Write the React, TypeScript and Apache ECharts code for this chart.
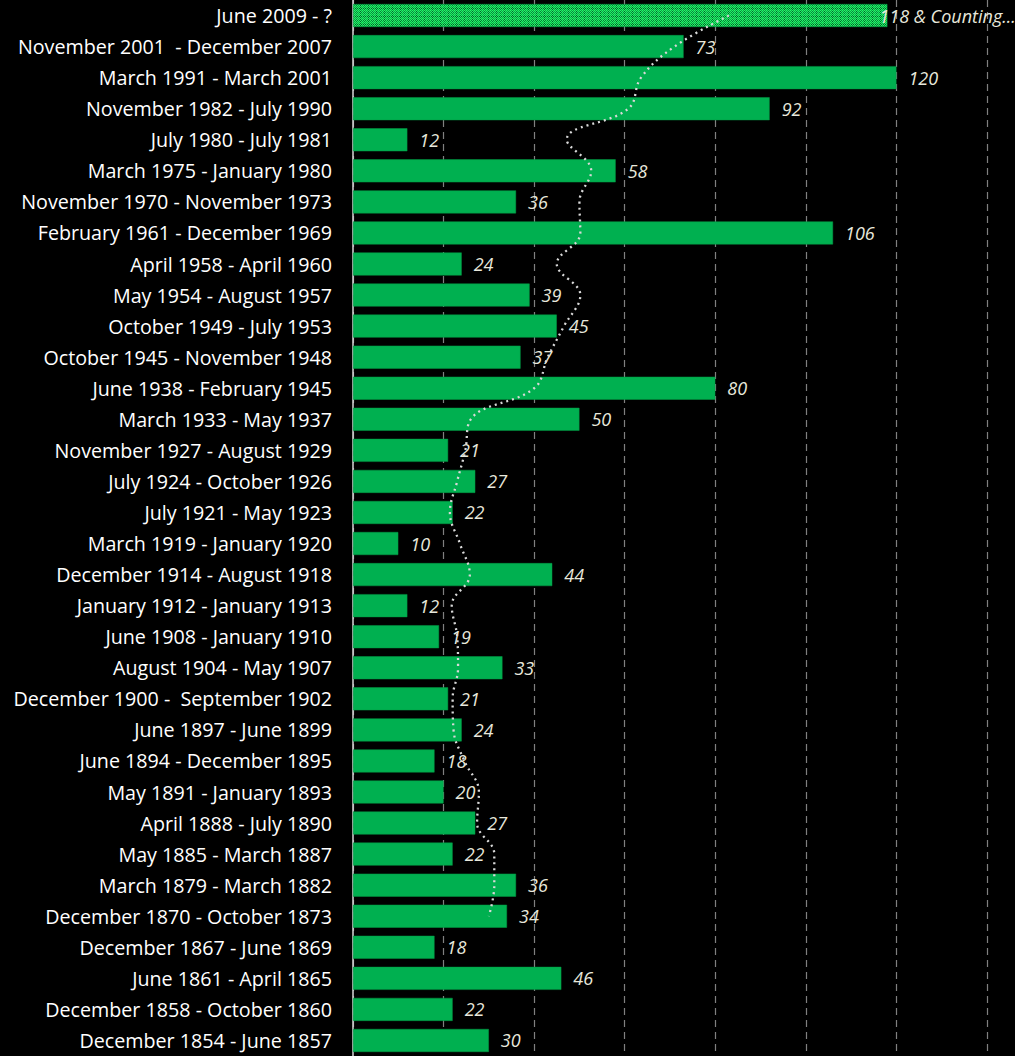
import React, { useEffect, useRef } from "react";
import * as echarts from "echarts";

const categories = [
  "June 2009 - ?",
  "November 2001  - December 2007",
  "March 1991 - March 2001",
  "November 1982 - July 1990",
  "July 1980 - July 1981",
  "March 1975 - January 1980",
  "November 1970 - November 1973",
  "February 1961 - December 1969",
  "April 1958 - April 1960",
  "May 1954 - August 1957",
  "October 1949 - July 1953",
  "October 1945 - November 1948",
  "June 1938 - February 1945",
  "March 1933 - May 1937",
  "November 1927 - August 1929",
  "July 1924 - October 1926",
  "July 1921 - May 1923",
  "March 1919 - January 1920",
  "December 1914 - August 1918",
  "January 1912 - January 1913",
  "June 1908 - January 1910",
  "August 1904 - May 1907",
  "December 1900 -  September 1902",
  "June 1897 - June 1899",
  "June 1894 - December 1895",
  "May 1891 - January 1893",
  "April 1888 - July 1890",
  "May 1885 - March 1887",
  "March 1879 - March 1882",
  "December 1870 - October 1873",
  "December 1867 - June 1869",
  "June 1861 - April 1865",
  "December 1858 - October 1860",
  "December 1854 - June 1857",
];

const months = [
  118, 73, 120, 92, 12, 58, 36, 106, 24, 39, 45, 37, 80, 50, 21, 27, 22, 10,
  44, 12, 19, 33, 21, 24, 18, 20, 27, 22, 36, 34, 18, 46, 22, 30,
];

const movingAvg: (number | null)[] = [
  83, 71, 63.6, 60.8, 47.2, 52.6, 50, 50.2, 45, 50.2, 46.6, 43, 40, 26, 24.8,
  23, 21.4, 23.6, 25.8, 21.8, 23, 23.2, 22, 22.2, 24.6, 27.8, 27.4, 31.2,
  31.2, 30, null, null, null, null,
];

const currentSuffix = " & Counting...";

function makePattern(): string {
  const c = document.createElement("canvas");
  c.width = 8;
  c.height = 8;
  const ctx = c.getContext("2d")!;
  for (let y = 0; y < 8; y++) {
    for (let x = 0; x < 8; x++) {
      let col = (x + y) % 2 === 0 ? "#22f468" : "#0aa844";
      if ((x === 0 || y === 0) && (x + y) % 2 === 1) col = "#04602a";
      if ((x === 4 || y === 4) && (x + y) % 2 === 1) col = "#07803a";
      ctx.fillStyle = col;
      ctx.fillRect(x, y, 1, 1);
    }
  }
  return c.toDataURL();
}

export default function App() {
  const ref = useRef<HTMLDivElement>(null);
  useEffect(() => {
    if (!ref.current) return;
    const chart = echarts.init(ref.current, undefined, { renderer: "svg" });
    const pattern = makePattern();
    chart.setOption({
      animation: false,
      backgroundColor: "#000000",
      grid: { left: 353, right: 28, top: 0, height: 1058 },
      xAxis: {
        type: "value",
        min: 0,
        max: 140,
        interval: 20,
        axisLabel: { show: false },
        axisLine: { show: false },
        axisTick: { show: false },
        splitLine: {
          show: true,
          lineStyle: { color: "#808080", type: [7, 5], width: 1.2 },
        },
      },
      yAxis: {
        type: "category",
        inverse: true,
        data: categories,
        axisLine: { show: true, lineStyle: { color: "#d9d9d9", width: 1.5 } },
        axisTick: { show: false },
        axisLabel: {
          color: "#ffffff",
          fontSize: 19.7,
          fontFamily: "Open Sans",
          margin: 21,
        },
      },
      series: [
        {
          type: "bar",
          data: months.map((v, i) =>
            i === 0
              ? {
                  value: v,
                  itemStyle: { color: { image: pattern, repeat: "repeat" } },
                  label: { distance: -8 },
                }
              : v
          ),
          barWidth: 23,
          itemStyle: { color: "#00b050", borderColor: "#009a44", borderWidth: 0.5 },
          label: {
            show: true,
            position: "right",
            distance: 12,
            color: "#e8e8dc",
            fontStyle: "italic",
            fontSize: 18,
            fontFamily: "Open Sans",
            formatter: (p: any) =>
              p.dataIndex === 0 ? `${p.value}${currentSuffix}` : `${p.value}`,
          },
          z: 2,
        },
        {
          type: "line",
          data: movingAvg,
          smooth: 0.4,
          symbol: "none",
          connectNulls: false,
          lineStyle: { color: "#d9d9d9", width: 2.3, type: [2, 4] },
          z: 3,
        },
      ],
    });
    return () => chart.dispose();
  }, []);
  return (
    <div
      ref={ref}
      style={{ position: "absolute", left: 0, top: 0, width: 1015, height: 1056 }}
    />
  );
}
